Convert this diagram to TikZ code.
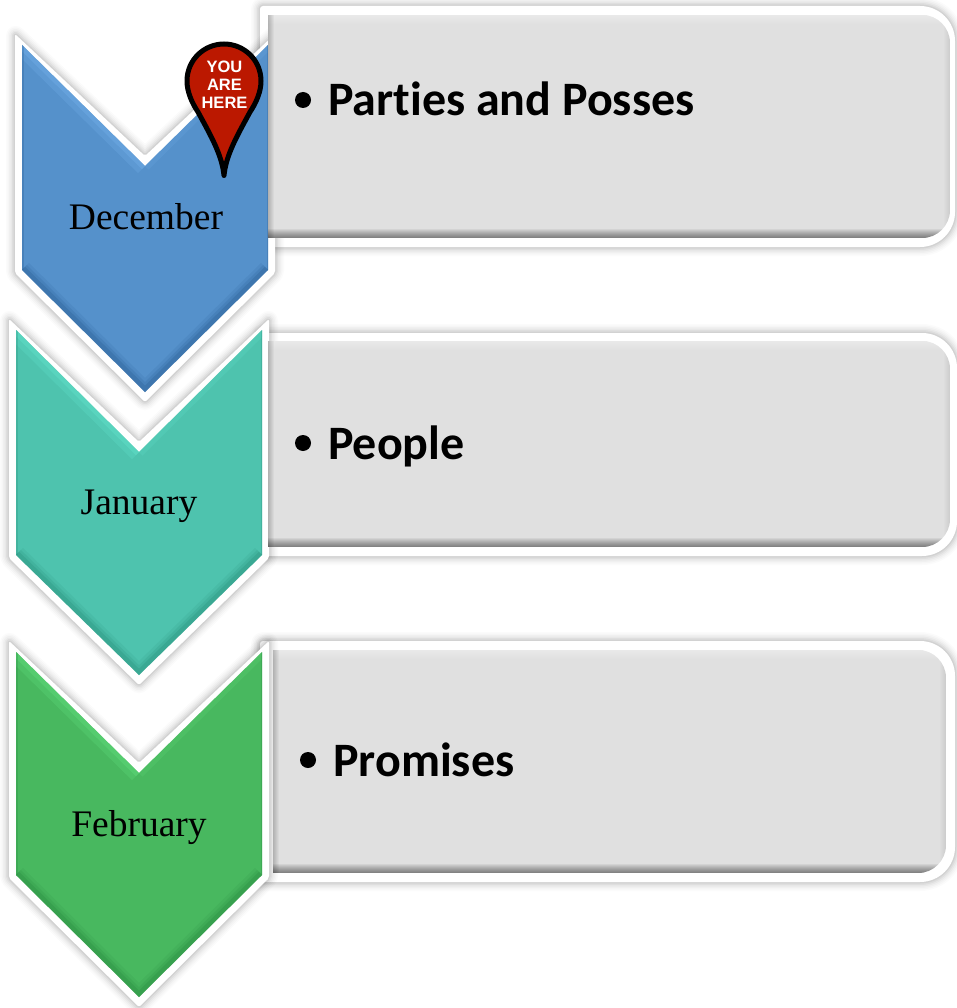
\documentclass[tikz,border=0pt]{standalone}
\usepackage{fontspec}
\setmainfont{Liberation Serif}
\newfontfamily\bodyfont[Ligatures=NoCommon]{Carlito}
\newfontfamily\pinfont{Liberation Sans}
\definecolor{cblue}{HTML}{5591CB}
\definecolor{lblue}{HTML}{6CA8E2}
\definecolor{dblue}{HTML}{2A5F94}
\definecolor{cteal}{HTML}{4EC3AE}
\definecolor{lteal}{HTML}{5FDCC6}
\definecolor{dteal}{HTML}{2A8F7C}
\definecolor{cgreen}{HTML}{48B85F}
\definecolor{lgreen}{HTML}{5CD676}
\definecolor{dgreen}{HTML}{2A8A40}
\definecolor{boxgrey}{HTML}{E0E0E0}
\definecolor{pinred}{HTML}{BB1800}
\tikzset{
  monthlabel/.style={font=\fontsize{37.5}{40}\selectfont,text=black,inner sep=0pt,anchor=base},
  itemlabel/.style={font=\bodyfont\bfseries\fontsize{48}{54}\selectfont,text=black,anchor=base west,inner sep=0pt},
  bulletmark/.style={circle,fill=black,minimum size=16pt,inner sep=0pt},
  pinlabel/.style={font=\pinfont\bfseries\fontsize{16.5}{18}\selectfont,text=white,align=center,inner sep=0pt},
  softline/.style={line join=round,draw=black,draw opacity=#1},
}
% shadow + white outline of a closed path
\newcommand{\halo}[1]{%
  \foreach \w/\o in {18/.015,15/.02,12/.025,9/.03,6/.04,3/.05}{\path[softline=\o,line width=\w pt] #1;}
  \path[fill=white] #1;}
% chevron: L R T notchY sideBottomY tipY midX base light dark
\newcommand{\chev}[9]{%
  \def\pth{(#1,#3) -- (#7,#4) -- (#2,#3) -- (#2,#5) -- (#7,#6) -- (#1,#5) -- cycle}
  \halo{[rounded corners=2pt] (#1-7,#3-11) -- (#7,#4-10) -- (#2+7,#3-11) -- (#2+7,#5+3) -- (#7,#6+10) -- (#1-7,#5+3) -- cycle}
  \fill[#8] \pth;
  \begin{scope}
    \clip \pth;
    \draw[#9,opacity=.35,line width=20pt] (#1,#3) -- (#7,#4);
    \draw[#9,opacity=.55,line width=9pt] (#1,#3) -- (#7,#4);
    \draw[#9,opacity=.25,line width=10pt] (#7,#4) -- (#2,#3);
  \end{scope}}
\newcommand{\chevdark}[8]{%
  \begin{scope}
    \clip (#1,#3) -- (#7,#4) -- (#2,#3) -- (#2,#5) -- (#7,#6) -- (#1,#5) -- cycle;
    \draw[#8,opacity=.12,line width=20pt] (#1,#5) -- (#7,#6) -- (#2,#5);
    \draw[#8,opacity=.2,line width=14pt] (#1,#5) -- (#7,#6) -- (#2,#5);
    \draw[#8,opacity=.3,line width=9pt] (#1,#5) -- (#7,#6) -- (#2,#5);
    \draw[#8,opacity=.3,line width=3pt] (#1,#3) -- (#1,#5);
    \draw[#8,opacity=.3,line width=3pt] (#2,#3) -- (#2,#5);
  \end{scope}}
% box outline: L T R B (outer edges)
\newcommand{\boxhalo}[4]{%
  \halo{(#1+3,#2) -- (#3-35,#2) arc[start angle=90,end angle=0,radius=35pt] -- (#3,#4-35) arc[start angle=0,end angle=-90,radius=35pt] -- (#1,#4) -- (#1,#2+3) arc[start angle=180,end angle=90,radius=3pt] -- cycle}}
\newcommand{\boxfill}[4]{%
  \begin{scope}
    \clip (#1,#2) -- (#3-28,#2) arc[start angle=90,end angle=0,radius=28pt] -- (#3,#4-28) arc[start angle=0,end angle=-90,radius=28pt] -- (#1,#4) -- cycle;
    \fill[boxgrey] (#1,#2) rectangle (#3,#4);
    \foreach \i in {1,...,9}{\fill[white,opacity=.05] (#1,#2) rectangle (#3,#2+\i);}
    \foreach \i in {1,...,9}{\fill[black,opacity=.055] (#1,#4-\i) rectangle (#3,#4);}
    \foreach \i in {1,...,6}{\fill[black,opacity=.035] (#1,#2) rectangle (#1+\i,#4);}
    \foreach \i in {1,...,6}{\fill[black,opacity=.012] (#3-\i,#2) rectangle (#3,#4);}
  \end{scope}}
\begin{document}
\begin{tikzpicture}[x=1pt,y=-1pt]
\useasboundingbox (0,0) rectangle (956,1008);
\fill[white] (0,0) rectangle (956,1008);
% box outlines
\boxhalo{260}{6}{955}{247}
\boxhalo{260}{333}{957}{556}
\boxhalo{260}{641}{955}{882}
% chevrons
\chev{22}{268}{45}{166}{270}{392}{145}{cblue}{lblue}
\chevdark{22}{268}{45}{166}{270}{392}{145}{dblue}
\chev{16}{262}{330}{452}{555}{675}{139}{cteal}{lteal}
\chevdark{16}{262}{330}{452}{555}{675}{139}{dteal}
\chev{16}{262}{652}{773}{875}{997}{139}{cgreen}{lgreen}
\chevdark{16}{262}{652}{773}{875}{997}{139}{dgreen}
% box fills
\boxfill{268}{15}{950}{238}
\boxfill{268}{341}{950}{547}
\boxfill{273}{650}{946}{873}
% month labels
\node[monthlabel] (dec) at (146,229.5) {December};
\node[monthlabel] (jan) at (139,514) {January};
\node[monthlabel] (feb) at (139,836) {February};
% items
\node[bulletmark] (b1) at (303,100) {};
\node[itemlabel] (t1) at (328,116) {Parties and Posses};
\node[bulletmark] (b2) at (303,443) {};
\node[itemlabel] (t2) at (328,459) {People};
\node[bulletmark] (b3) at (308,760) {};
\node[itemlabel] (t3) at (333,776) {Promises};
% pin
\path[draw=black,fill=pinred,line width=5pt,line join=round]
  (224,175.5) .. controls (222,155) and (211,136) .. (198,112)
  .. controls (192,103) and (187,92) .. (187,81)
  .. controls (187,60) and (204,44) .. (224,44)
  .. controls (244,44) and (261,60) .. (261,81)
  .. controls (261,92) and (256,103) .. (250,112)
  .. controls (237,136) and (226,155) .. (224,175.5) -- cycle;
\node[pinlabel] (pin) at (224.5,85) {YOU\\ARE\\HERE};
\end{tikzpicture}
\end{document}
